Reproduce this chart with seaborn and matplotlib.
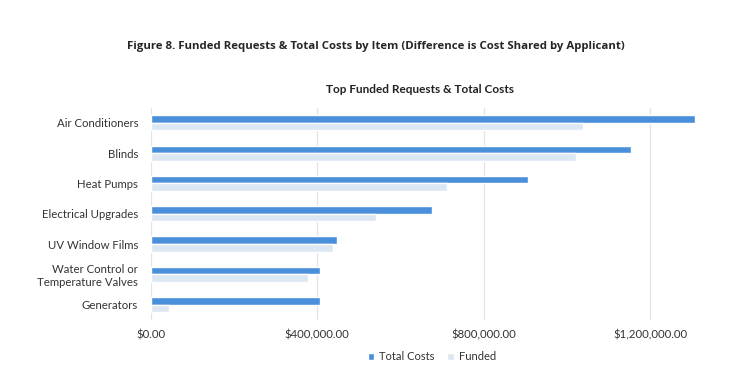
import pandas as pd
import matplotlib.pyplot as plt
import matplotlib.ticker as mticker
from matplotlib.patches import Patch
import seaborn as sns

items = ['Air Conditioners', 'Blinds', 'Heat Pumps', 'Electrical Upgrades',
         'UV Window Films', 'Water Control or\nTemperature Valves', 'Generators']
total_costs = [1308000, 1155000, 907000, 676000, 448000, 408000, 408000]
funded = [1039000, 1021000, 713000, 541000, 437000, 379000, 45000]
series = ['Total Costs', 'Funded']
colors = ['#4A8FDA', '#DCE7F4']

df = pd.DataFrame({
	'item': items * 2,
	'value': total_costs + funded,
	'series': [series[0]] * len(items) + [series[1]] * len(items),
})

sns.set_theme(style='white')
plt.rcParams['font.family'] = ['Lato', 'DejaVu Sans']

fig = plt.figure(figsize=(7.52, 3.78), dpi=100)
ax = fig.add_axes([0.2004, 0.154, 0.7305, 0.561])

sns.barplot(data=df, y='item', x='value', hue='series', hue_order=series,
            palette=colors, orient='h', width=0.5, gap=0, dodge=True,
            legend=False, ax=ax, saturation=1)

ax.set_xlim(0, 1320000)
ax.xaxis.set_major_locator(mticker.MultipleLocator(400000))
ax.xaxis.set_major_formatter(mticker.FuncFormatter(lambda v, p: '${:,.2f}'.format(v)))
ax.grid(axis='x', color='#E3E3E3', linewidth=0.9)
ax.set_axisbelow(True)
for s in ax.spines.values():
	s.set_visible(False)
ax.set_xlabel('')
ax.set_ylabel('')
ax.tick_params(axis='both', length=0, labelsize=8.2, colors='#333333')
ax.tick_params(axis='y', pad=9)
ax.tick_params(axis='x', pad=7)

fig.text(0.5, 0.878, 'Figure 8. Funded Requests & Total Costs by Item (Difference is Cost Shared by Applicant)',
         ha='center', va='center', fontsize=8.2, fontweight='bold', family=['Open Sans', 'DejaVu Sans'])
fig.text(0.558, 0.762, 'Top Funded Requests & Total Costs', ha='center', va='center',
         fontsize=8.5, fontweight='bold', color='#222222')

handles = [Patch(facecolor=c, label=l) for c, l in zip(colors, series)]
fig.legend(handles=handles, loc='center', bbox_to_anchor=(0.574, 0.057), ncol=2,
           frameon=False, fontsize=8, handlelength=0.6, handleheight=0.6,
           handletextpad=0.4, columnspacing=1.2, labelcolor='#333333')

fig.savefig('out.png', dpi=100)
